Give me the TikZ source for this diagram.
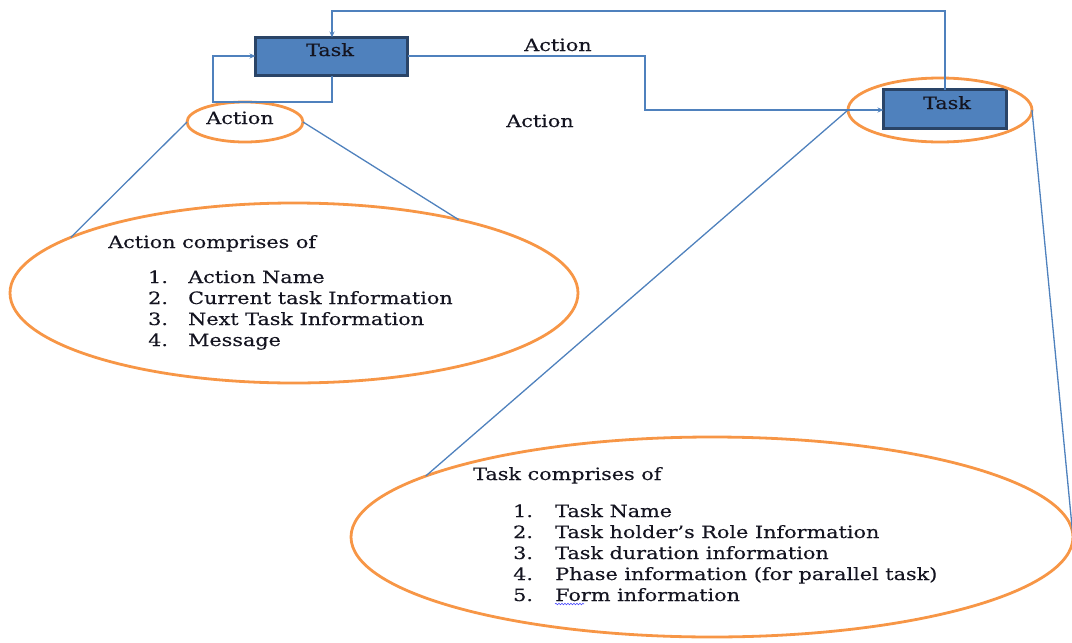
\documentclass[tikz,border=0pt]{standalone}
\usepackage{fontspec}
\setmainfont{DejaVu Serif}[FakeStretch=1.22, FakeBold=0.35]
\usetikzlibrary{shapes.geometric,arrows.meta,decorations.pathmorphing}

\definecolor{taskfill}{HTML}{4F81BD}
\definecolor{taskedge}{HTML}{2A4467}
\definecolor{linkblue}{HTML}{4F81BD}
\definecolor{ringorange}{HTML}{F79646}
\definecolor{inkdark}{HTML}{141420}

\tikzset{
  x=1pt, y=-1pt,
  txt/.style={font=\fontsize{17}{20}\selectfont, text=inkdark, inner sep=0pt},
  taskbox/.style={rectangle, fill=taskfill, draw=taskedge, line width=3pt,
    inner sep=0pt, outer sep=0pt},
  ring/.style={ellipse, draw=ringorange, line width=2.8pt, inner sep=0pt, outer sep=0pt},
  link/.style={draw=linkblue, line width=1.3pt},
  flow/.style={link, -{Stealth[length=6pt,width=5pt]}},
}

\begin{document}
\begin{tikzpicture}
\useasboundingbox (0,0) rectangle (1072,643);

% task boxes
\node[taskbox, minimum width=152pt, minimum height=38pt] (task1) at (331.5,56.5) {};
\node[txt, anchor=base] (task1lbl) at (330,56) {Task};
\node[taskbox, minimum width=123pt, minimum height=39pt] (task2) at (945,109) {};
\node[txt, anchor=base] (task2lbl) at (947,109) {Task};

% orange rings
\node[ring, minimum width=116pt, minimum height=40pt] (act) at (245,122) {};
\node[txt, anchor=base] (actlbl) at (240,124) {Action};
\node[ring, minimum width=184pt, minimum height=64pt] (ring2) at (940,110) {};
\node[ring, minimum width=568pt, minimum height=180pt] (bigA) at (294,293) {};
\node[ring, minimum width=722pt, minimum height=200pt] (bigT) at (712,537) {};

% floating action labels
\node[txt, anchor=base] (lblA1) at (558,51) {Action};
\node[txt, anchor=base] (lblA2) at (540,127) {Action};

% flow connectors between tasks
\coordinate (loopA) at (213,102);
\draw[flow] (task1.south -| 332,0) |- (loopA) |- (task1.west |- 0,56);
\draw[flow] (task1.east |- 0,56) -| (645,110) -- (task2.west |- 0,110);
\draw[flow] (task2.north -| 945,0) |- (332,11) -- (task1.north -| 332,0);

% callout lines from the small rings to the detail ellipses
\draw[link] (act.west) -- (bigA.166);
\draw[link] (act.east) -- (bigA.24.5);
\draw[link] (ring2.west) -- (bigT.168);
\draw[link] (ring2.east) -- (bigT.east);

% action details
\node[txt, anchor=base west] (aHead) at (108,248) {Action comprises of};
\foreach \i/\t [count=\k] in {1/Action Name, 2/Current task Information, 3/Next Task Information, 4/Message}{
  \node[txt, anchor=base west] (aNum\k) at (148,{262+21*\k}) {\i.};
  \node[txt, anchor=base west] (aItem\k) at (188,{262+21*\k}) {\t};
}

% task details
\node[txt, anchor=base west] (tHead) at (473,480) {Task comprises of};
\foreach \i/\t [count=\k] in {1/Task Name, 2/Task holder’s Role Information, 3/Task duration information, 4/Phase information (for parallel task), 5/Form information}{
  \node[txt, anchor=base west] (tNum\k) at (513,{496+21*\k}) {\i.};
  \node[txt, anchor=base west] (tItem\k) at (555,{496+21*\k}) {\t};
}
% spell-check squiggle under "Form"
\draw[draw=blue!70, line width=0.6pt, decorate,
  decoration={snake, amplitude=0.8pt, segment length=3pt}]
  (tItem5.base west) ++(0,3) -- ++(29,0);
\end{tikzpicture}
\end{document}
